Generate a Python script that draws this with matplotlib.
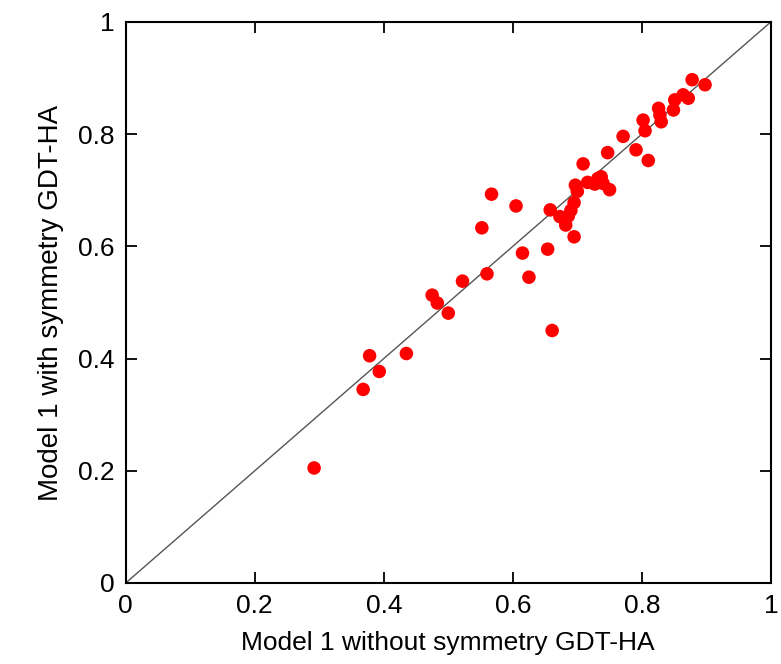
import numpy as np
import matplotlib.pyplot as plt

plt.rcParams['font.family'] = ['Liberation Sans', 'DejaVu Sans']

# GDT-HA of model 1, without (x) and with (y) symmetry
gdt_without = [0.292, 0.368, 0.378, 0.393, 0.435, 0.475, 0.483, 0.500, 0.522,
               0.552, 0.560, 0.567, 0.605, 0.615, 0.625, 0.654, 0.658, 0.661,
               0.673, 0.682, 0.686, 0.690, 0.695, 0.695, 0.697, 0.700, 0.709,
               0.716, 0.727, 0.732, 0.737, 0.740, 0.750, 0.747, 0.771, 0.791,
               0.810, 0.802, 0.805, 0.826, 0.828, 0.830, 0.849, 0.851, 0.864,
               0.872, 0.878, 0.898]
gdt_with = [0.205, 0.345, 0.405, 0.377, 0.409, 0.513, 0.499, 0.481, 0.538,
            0.633, 0.551, 0.693, 0.672, 0.588, 0.545, 0.595, 0.665, 0.450,
            0.653, 0.638, 0.654, 0.664, 0.678, 0.617, 0.709, 0.698, 0.747,
            0.714, 0.711, 0.721, 0.724, 0.712, 0.701, 0.767, 0.796, 0.772,
            0.753, 0.825, 0.806, 0.846, 0.834, 0.822, 0.843, 0.861, 0.870,
            0.864, 0.897, 0.888]

fig = plt.figure(figsize=(7.81, 6.64), dpi=100)
ax = fig.add_axes([0.161, 0.122, 0.826, 0.845])

ax.plot([0, 1], [0, 1], color='#555555', lw=1.0, zorder=1)
ax.scatter(gdt_without, gdt_with, s=95, color='red', edgecolors='none', zorder=2)

ax.set_xlim(0, 1)
ax.set_ylim(0, 1)
ticks = [0, 0.2, 0.4, 0.6, 0.8, 1]
ax.set_xticks(ticks)
ax.set_yticks(ticks)
ax.set_xticklabels(['0', '0.2', '0.4', '0.6', '0.8', '1'])
ax.set_yticklabels(['0', '0.2', '0.4', '0.6', '0.8', '1'])
ax.tick_params(direction='in', length=8, width=1.3, top=True, right=True,
               labelsize=19, pad=8)
for sp in ax.spines.values():
    sp.set_linewidth(1.5)

ax.set_xlabel('Model 1 without symmetry GDT-HA', fontsize=19, labelpad=9)
ax.set_ylabel('Model 1 with symmetry GDT-HA', fontsize=20, labelpad=10)

plt.savefig('out.png', dpi=100)
